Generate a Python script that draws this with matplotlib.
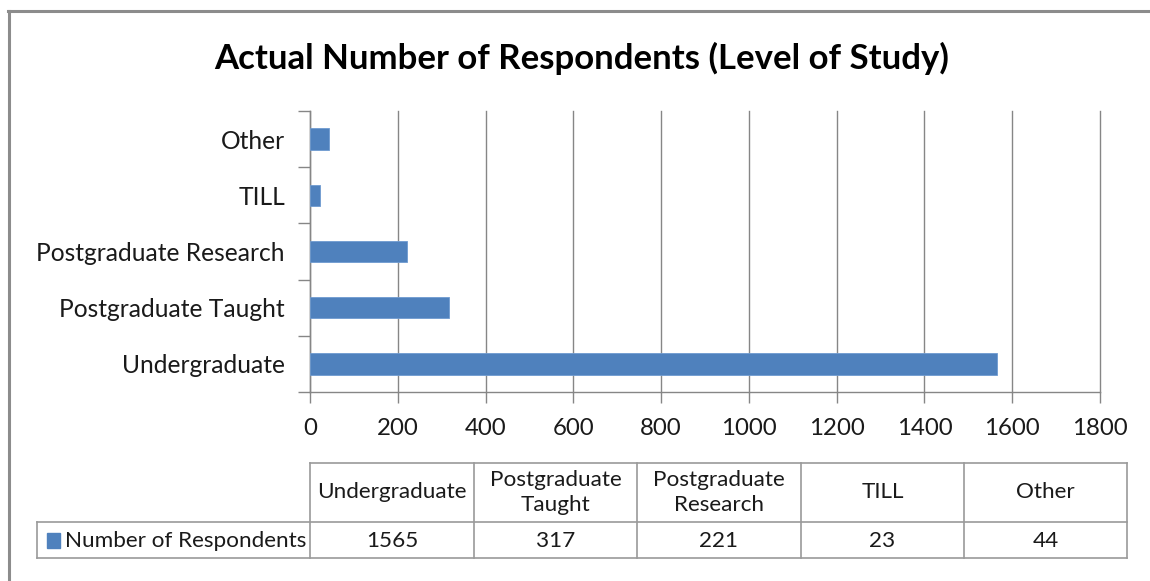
import matplotlib.pyplot as plt
from matplotlib.patches import Rectangle
from matplotlib.lines import Line2D

plt.rcParams['font.family'] = ['Lato', 'DejaVu Sans']

# level of study, bottom to top as drawn on the axis
categories = ['Undergraduate', 'Postgraduate Taught', 'Postgraduate Research', 'TILL', 'Other']
table_headers = ['Undergraduate', 'Postgraduate\nTaught', 'Postgraduate\nResearch', 'TILL', 'Other']
respondents = [1565, 317, 221, 23, 44]
series_name = 'Number of Respondents'
x_ticks = [0, 200, 400, 600, 800, 1000, 1200, 1400, 1600, 1800]

W, H = 1150, 581
bar_color = '#4f81bd'
grid_color = '#868686'
border_color = '#8c8c8c'
text_color = '#1a1a1a'


def fx(px):
    return px / W


def fy(py):
    return 1 - py / H


fig = plt.figure(figsize=(W / 100, H / 100), dpi=100)

# outer chart frame (left and top edges visible)
fig.add_artist(Line2D([fx(9), fx(9)], [fy(11), 0], color=border_color, lw=2.2))
fig.add_artist(Line2D([fx(8), 1], [fy(11), fy(11)], color=border_color, lw=2.2))

fig.text(fx(582), fy(58), 'Actual Number of Respondents (Level of Study)',
         ha='center', va='center', fontsize=25, fontweight='bold', color='black')

ax = fig.add_axes([fx(310), fy(392), fx(1100) - fx(310), fy(111) - fy(392)])
ax.barh(range(len(categories)), respondents, height=0.38, color=bar_color,
        edgecolor='#6f9bd0', linewidth=0.6, zorder=3)
ax.set_xlim(0, 1800)
ax.set_ylim(-0.5, len(categories) - 0.5)
ax.set_xticks(x_ticks)
ax.set_xticklabels([str(t) for t in x_ticks])
ax.set_yticks(range(len(categories)))
ax.set_yticklabels(categories)
ax.set_yticks([i - 0.5 for i in range(len(categories) + 1)], minor=True)
ax.tick_params(axis='y', which='major', length=0, pad=18, labelsize=17.7, labelcolor=text_color)
ax.tick_params(axis='y', which='minor', length=9, width=1, color=grid_color, direction='out')
ax.tick_params(axis='x', length=8, width=1, color=grid_color, pad=11, labelsize=17.3,
               labelcolor=text_color)
ax.grid(axis='x', color=grid_color, lw=1, zorder=0)
for gl in ax.get_xgridlines():
    gl.set_clip_on(False)
for side in ['top', 'right']:
    ax.spines[side].set_visible(False)
for side in ['left', 'bottom']:
    ax.spines[side].set_color(grid_color)
    ax.spines[side].set_linewidth(1)
ax.set_facecolor('none')

# data table below the axis
col_edges = [310, 474, 637, 801, 964, 1127]
row_top, row_mid, row_bot = 463, 522, 558
label_left = 37
lc = '#9a9a9a'


def hline(x0, x1, y):
    fig.add_artist(Line2D([fx(x0), fx(x1)], [fy(y), fy(y)], color=lc, lw=1.2))


def vline(x, y0, y1):
    fig.add_artist(Line2D([fx(x), fx(x)], [fy(y0), fy(y1)], color=lc, lw=1.2))


hline(col_edges[0], col_edges[-1], row_top)
hline(label_left, col_edges[-1], row_mid)
hline(label_left, col_edges[-1], row_bot)
vline(label_left, row_mid, row_bot)
for x in col_edges:
    vline(x, row_top, row_bot)

for i, (head, val) in enumerate(zip(table_headers, respondents)):
    cx = (col_edges[i] + col_edges[i + 1]) / 2
    fig.text(fx(cx), fy((row_top + row_mid) / 2), head, ha='center', va='center',
             fontsize=16.2, color=text_color, linespacing=1.3)
    fig.text(fx(cx), fy((row_mid + row_bot) / 2 + 1), str(val), ha='center', va='center',
             fontsize=16.2, color=text_color)

fig.add_artist(Rectangle((fx(47), fy(548)), fx(13), fy(533) - fy(548), color=bar_color))
fig.text(fx(65), fy((row_mid + row_bot) / 2 + 1), series_name, ha='left', va='center',
         fontsize=16.2, color=text_color)

fig.savefig('out.png', dpi=100)
